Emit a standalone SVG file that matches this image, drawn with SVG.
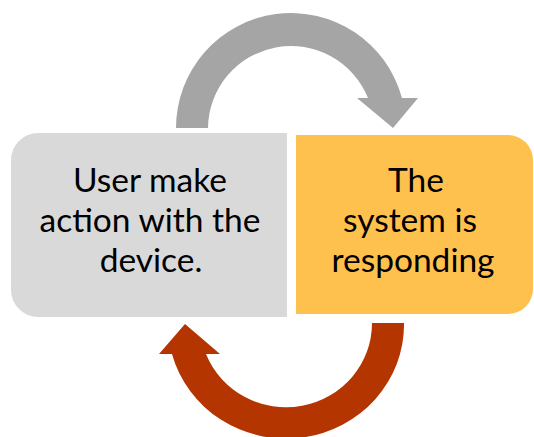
<svg xmlns="http://www.w3.org/2000/svg" width="534" height="437" viewBox="0 0 534 437">
<style>
.t{font-family:Lato,"Liberation Sans",sans-serif;font-size:33.5px;fill:#000;text-anchor:middle}
</style>
<rect width="534" height="437" fill="#fff"/>
<g id="connectors">
<path id="arrow-top" fill="#A5A5A5" d="M176 128 A115 115 0 0 1 402 98 L418 98 L393 128 L357 98 L368 98 A83 83 0 0 0 208 128 Z"/>
<path id="arrow-bottom" fill="#B43500" d="M372 323 A86 84 0 0 1 206 354 L220 354 L185 324 L159 354 L172 354 A118 114 0 0 0 404 323 Z"/>
</g>
<g id="node-user">
<path fill="#D9D9D9" d="M38 133 H287 V317 H38 A27 27 0 0 1 11 290 V160 A27 27 0 0 1 38 133 Z"/>
<text class="t" x="150" y="192">User make</text>
<text class="t" x="150" y="232">action with the</text>
<text class="t" x="151" y="272">device.</text>
</g>
<g id="node-system">
<path fill="#FFC14D" d="M296 135 H508 A25 25 0 0 1 533 160 V289 A25 25 0 0 1 508 314 H296 Z"/>
<text class="t" x="416" y="192">The</text>
<text class="t" x="410" y="232">system is</text>
<text class="t" x="413" y="272">responding</text>
</g>
</svg>
